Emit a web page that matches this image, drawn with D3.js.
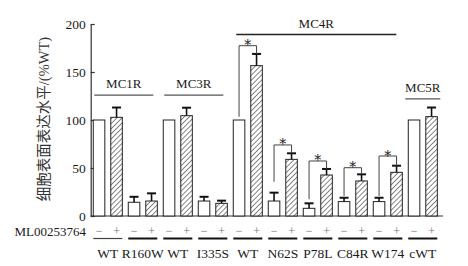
<!DOCTYPE html>
<html lang="zh">
<head>
    <meta charset="UTF-8">
    <title>MCR expression</title>
    <script src="https://cdn.jsdelivr.net/npm/d3@7"></script>
    <style>
        body { margin: 0; background: #fff; }
        text { font-family: "Liberation Serif", "Noto Sans CJK SC", serif; fill: #1a1a1a; }
    </style>
</head>
<body>
<svg id="chart" width="468" height="266"></svg>
<script>
    // pair labels (mutants) and readings
    let pairs = ["WT", "R160W", "WT", "I335S", "WT", "N62S", "P78L", "C84R", "W174", "cWT"]
    let vehicle = [100, 14.3, 100, 15.6, 100, 15.6, 8, 15, 15, 100]
    let vehicleErr = [0, 5.7, 0, 4.4, 0, 8.7, 5.2, 4, 4, 0]
    let treated = [102.8, 15.6, 104.5, 13.2, 156.6, 59, 42.7, 36.5, 45.5, 103.5]
    let treatedErr = [10.2, 8, 8.3, 2.8, 12.2, 6.3, 6.3, 6.9, 6.9, 9.5]

    // receptor groups: first/last pair index and height of the line
    let groupNames = ["MC1R", "MC3R", "MC4R", "MC5R"]
    let groupFrom = [0, 2, 4, 9]
    let groupTo = [1, 3, 8, 9]
    let groupLevel = [126, 126, 189, 122]

    // significance brackets
    let sigPair = [4, 5, 6, 7, 8]
    let sigTop = [177.4, 74, 57.3, 50.3, 62.5]
    let sigLeftEnd = [103.4, 35.7, 17.4, 20.8, 20.8]

    let yTicks = [0, 50, 100, 150, 200]
    let drugLabel = "ML00253764"
    let yTitle = "细胞表面表达水平/(%WT)"

    let svg = d3.select("#chart")

    let bars = []
    pairs.forEach((p, i) => {
        bars.push({ id: "b" + (i * 2), pair: i, drug: false, v: vehicle[i], e: vehicleErr[i] })
        bars.push({ id: "b" + (i * 2 + 1), pair: i, drug: true, v: treated[i], e: treatedErr[i] })
    })

    let x = d3.scaleBand().domain(bars.map(d => d.id))
        .range([90.3, 440.3]).paddingInner(0.34).paddingOuter(0.17)
    let y = d3.scaleLinear().domain([0, 200]).range([216, 24])
    let bw = x.bandwidth()
    let cx = id => x(id) + bw / 2

    // hatch
    let defs = svg.append("defs")
    let pat = defs.append("pattern").attr("id", "hatch")
        .attr("patternUnits", "userSpaceOnUse").attr("width", 3.6).attr("height", 3.6)
        .attr("patternTransform", "rotate(45)")
    pat.append("rect").attr("width", 3.6).attr("height", 3.6).attr("fill", "#fff")
    pat.append("line").attr("x1", 0).attr("y1", 0).attr("x2", 0).attr("y2", 3.6)
        .attr("stroke", "#222").attr("stroke-width", 1.1)

    // y axis
    let yAxis = d3.axisLeft(y).tickValues(yTicks).tickSizeInner(-4).tickSizeOuter(0).tickPadding(5)
    let yg = svg.append("g").attr("transform", "translate(90.7,0)").call(yAxis)
    yg.selectAll("text").style("font-size", "13.5px").style("font-family", "Liberation Serif")
    yg.selectAll("path, line").attr("stroke", "#333").attr("stroke-width", 1.2)

    // x baseline
    svg.append("line").attr("x1", 90.7).attr("x2", 443).attr("y1", y(0)).attr("y2", y(0))
        .attr("stroke", "#333").attr("stroke-width", 1.2)

    // bars
    svg.selectAll("rect.bar").data(bars).join("rect").attr("class", "bar")
        .attr("x", d => x(d.id)).attr("width", bw)
        .attr("y", d => y(d.v)).attr("height", d => y(0) - y(d.v))
        .attr("fill", d => d.drug ? "url(#hatch)" : "#fff")
        .attr("stroke", "#222").attr("stroke-width", 1)

    // error bars (upper only)
    let errs = bars.filter(d => d.e > 0)
    svg.selectAll("line.err").data(errs).join("line").attr("class", "err")
        .attr("x1", d => cx(d.id)).attr("x2", d => cx(d.id))
        .attr("y1", d => y(d.v)).attr("y2", d => y(d.v + d.e))
        .attr("stroke", "#111").attr("stroke-width", 1.6)
    svg.selectAll("line.cap").data(errs).join("line").attr("class", "cap")
        .attr("x1", d => cx(d.id) - 4.5).attr("x2", d => cx(d.id) + 4.5)
        .attr("y1", d => y(d.v + d.e)).attr("y2", d => y(d.v + d.e))
        .attr("stroke", "#111").attr("stroke-width", 2)

    // significance brackets
    sigPair.forEach((p, k) => {
        let a = cx("b" + (p * 2)), b = cx("b" + (p * 2 + 1))
        let bottomR = treated[p] + treatedErr[p]
        svg.append("path")
            .attr("d", `M${a},${y(sigLeftEnd[k])}V${y(sigTop[k])}H${b}V${y(bottomR)}`)
            .attr("fill", "none").attr("stroke", "#444").attr("stroke-width", 1)
        svg.append("text").attr("x", (a + b) / 2).attr("y", y(sigTop[k]) + 4.5)
            .attr("text-anchor", "middle").style("font-size", "14px")
            .style("font-family", "DejaVu Serif").style("fill", "#222").text("*")
    })

    // group labels
    groupNames.forEach((g, k) => {
        let x0 = x("b" + (groupFrom[k] * 2)) + 1
        let x1 = x("b" + (groupTo[k] * 2 + 1)) + bw - 4
        if (g == "MC5R") { x0 -= 4; x1 += 7 }
        if (g == "MC4R") { x0 += 2; x1 -= 2 }
        svg.append("line").attr("x1", x0).attr("x2", x1)
            .attr("y1", y(groupLevel[k])).attr("y2", y(groupLevel[k]))
            .attr("stroke", g == "MC4R" ? "#222" : "#555").attr("stroke-width", g == "MC4R" ? 1.5 : 1.2)
        svg.append("text").attr("x", (x0 + x1) / 2).attr("y", y(groupLevel[k]) - 7)
            .attr("text-anchor", "middle").style("font-size", "13px").text(g)
    })

    // drug row
    svg.append("text").attr("x", 86).attr("y", 235.5).attr("text-anchor", "end")
        .style("font-size", "13px").text(drugLabel)
    svg.selectAll("text.sign").data(bars).join("text").attr("class", "sign")
        .attr("x", d => cx(d.id)).attr("y", 235)
        .attr("text-anchor", "middle").style("font-size", "12px").style("fill", "#777")
        .text(d => d.drug ? "+" : "−")

    // pair underline and label
    pairs.forEach((p, i) => {
        let x0 = x("b" + (i * 2)), x1 = x("b" + (i * 2 + 1)) + bw
        svg.append("line").attr("x1", x0).attr("x2", x1).attr("y1", 238.5).attr("y2", 238.5)
            .attr("stroke", i == 0 ? "#444" : "#111").attr("stroke-width", i == 0 ? 1.2 : 2)
        svg.append("text").attr("x", (x0 + x1) / 2).attr("y", 258)
            .attr("text-anchor", "middle").style("font-size", "13.5px").text(p)
    })

    // y title
    svg.append("text").attr("transform", "translate(49,119) rotate(-90)")
        .attr("text-anchor", "middle").style("font-size", "14.5px").style("fill", "#333")
        .text(yTitle)
</script>
</body>
</html>
